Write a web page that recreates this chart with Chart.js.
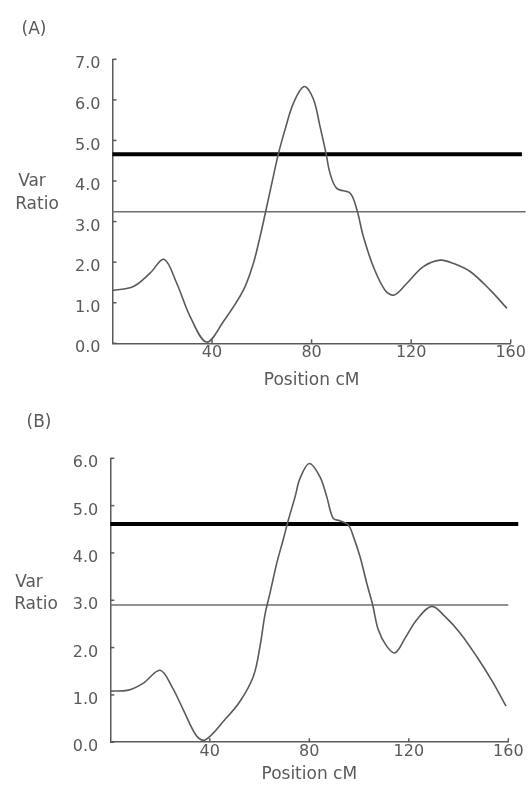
<!DOCTYPE html>
<html>
<head>
<meta charset="utf-8">
<script src="https://cdn.jsdelivr.net/npm/chart.js@4.4.1/dist/chart.umd.min.js"></script>
<style>
  html, body { margin: 0; padding: 0; background: #fff; }
  .panel { position: absolute; left: 0; width: 531px; }
  #panelA { top: 0; height: 393px; }
  #panelB { top: 393px; height: 394px; }
</style>
</head>
<body>
<div class="panel" id="panelA"><canvas id="chartA"></canvas></div>
<div class="panel" id="panelB"><canvas id="chartB"></canvas></div>
<script>
// panel (A)
const posA = [0, 8.4, 15.1, 20.7, 25.8, 31.2, 37.8, 44.5, 52.6, 56.6, 59.3, 61.3, 64, 66.7, 69.3, 72.7, 77, 80.7, 83.4, 85.8, 87.4, 90.1, 95.5, 98.2, 100.8, 104.8, 109.5, 113.2, 118.3, 124.9, 131.7, 137, 143.7, 151.8, 158.5];
const varA = [1.30, 1.40, 1.73, 2.07, 1.48, 0.66, 0.03, 0.53, 1.31, 1.97, 2.63, 3.18, 3.94, 4.68, 5.26, 5.92, 6.33, 6.02, 5.34, 4.68, 4.19, 3.82, 3.70, 3.29, 2.63, 1.89, 1.31, 1.19, 1.48, 1.89, 2.05, 1.97, 1.77, 1.31, 0.86];
const thickA = 4.66, thinA = 3.24;
const thickEndA = 164.5, thinEndA = 166;

// panel (B)
const posB = [0, 7.2, 13.3, 20, 24.7, 29.3, 34.7, 38.2, 46.1, 52.1, 57.5, 60.2, 62.2, 64.2, 66.9, 69.5, 71.6, 74.3, 76.3, 80, 84.3, 87, 89.6, 92.3, 95.7, 97.7, 100.4, 103.1, 105.5, 107.7, 111.1, 114.5, 118.5, 123.2, 129.2, 134.5, 140.6, 147.3, 154, 159.1];
const varB = [1.08, 1.10, 1.25, 1.52, 1.18, 0.69, 0.13, 0.05, 0.48, 0.86, 1.39, 2.03, 2.70, 3.15, 3.78, 4.28, 4.70, 5.19, 5.58, 5.89, 5.61, 5.19, 4.73, 4.68, 4.59, 4.35, 3.92, 3.36, 2.90, 2.38, 2.03, 1.89, 2.20, 2.59, 2.87, 2.66, 2.31, 1.81, 1.25, 0.76];
const thickB = 4.61, thinB = 2.90;
const thickEndB = 164, thinEndB = 160;

const xTicks = [40, 80, 120, 160];
const FONT = "'DejaVu Sans', Verdana, sans-serif";
const GREY = "#5a5a5a";

function toPoints(xs, ys) {
    return xs.map((x, i) => ({ x: x, y: ys[i] }));
}

// little tick marks pointing into the plot, like the original
const innerTicks = {
    id: "innerTicks",
    afterDraw(chart) {
        const { ctx, chartArea, scales } = chart;
        ctx.save();
        ctx.strokeStyle = GREY;
        ctx.lineWidth = 1.5;
        scales.x.ticks.forEach((t) => {
            const px = scales.x.getPixelForValue(t.value);
            ctx.beginPath();
            ctx.moveTo(px, chartArea.bottom);
            ctx.lineTo(px, chartArea.bottom - 4);
            ctx.stroke();
        });
        scales.y.ticks.forEach((t) => {
            const py = scales.y.getPixelForValue(t.value);
            ctx.beginPath();
            ctx.moveTo(chartArea.left, py);
            ctx.lineTo(chartArea.left + 4, py);
            ctx.stroke();
        });
        ctx.restore();
    },
};

// panel letter and the "Var Ratio" label
const sideText = {
    id: "sideText",
    afterDraw(chart, args, opts) {
        const ctx = chart.ctx;
        ctx.save();
        ctx.fillStyle = GREY;
        ctx.textAlign = "center";
        ctx.textBaseline = "middle";
        ctx.font = "17px " + FONT;
        opts.items.forEach((it) => ctx.fillText(it.text, it.x, it.y));
        ctx.restore();
    },
};

function makeChart(id, cfg) {
    return new Chart(document.getElementById(id), {
        type: "line",
        data: {
            datasets: [
                {
                    data: toPoints(cfg.pos, cfg.vals),
                    borderColor: GREY,
                    borderWidth: 1.6,
                    pointRadius: 0,
                    tension: 0.35,
                },
                {
                    data: toPoints([0, cfg.thickEnd], [cfg.thick, cfg.thick]),
                    borderColor: "#000",
                    borderWidth: 4,
                    pointRadius: 0,
                    clip: false,
                },
                {
                    data: toPoints([0, cfg.thinEnd], [cfg.thin, cfg.thin]),
                    borderColor: "#6e6e6e",
                    borderWidth: 1.5,
                    pointRadius: 0,
                    clip: false,
                },
            ],
        },
        options: {
            responsive: true,
            maintainAspectRatio: false,
            animation: false,
            layout: {
                padding: { top: cfg.top, right: cfg.right, left: 0, bottom: 0 },
            },
            scales: {
                x: {
                    type: "linear",
                    min: 0,
                    max: 160,
                    afterBuildTicks: (scale) => {
                        scale.ticks = xTicks.map((v) => ({ value: v }));
                    },
                    afterFit: (scale) => {
                        scale.height = cfg.xHeight;
                    },
                    grid: { drawOnChartArea: false, drawTicks: false },
                    border: { color: GREY, width: 1.5 },
                    ticks: {
                        color: GREY,
                        padding: 0,
                        maxRotation: 0,
                        font: { family: FONT, size: 16 },
                    },
                    title: {
                        display: true,
                        text: "Position cM",
                        color: GREY,
                        padding: { top: 0, bottom: 2 },
                        font: { family: FONT, size: 17 },
                    },
                },
                y: {
                    min: 0,
                    max: cfg.yMax,
                    afterFit: (scale) => {
                        scale.width = cfg.left;
                    },
                    grid: { drawOnChartArea: false, drawTicks: false },
                    border: { color: GREY, width: 1.5 },
                    ticks: {
                        stepSize: 1,
                        color: GREY,
                        padding: 12,
                        labelOffset: 5,
                        font: { family: FONT, size: 16 },
                        callback: (v) => v.toFixed(1),
                    },
                },
            },
            plugins: {
                legend: { display: false },
                tooltip: { enabled: false },
                sideText: { items: cfg.labels },
            },
        },
        plugins: [innerTicks, sideText],
    });
}

makeChart("chartA", {
    pos: posA, vals: varA,
    thick: thickA, thickEnd: thickEndA,
    thin: thinA, thinEnd: thinEndA,
    yMax: 7,
    top: 59.3, right: 20.3, left: 112.5, xHeight: 49.7,
    labels: [
        { text: "(A)", x: 34, y: 30 },
        { text: "Var", x: 32, y: 182 },
        { text: "Ratio", x: 37, y: 205 },
    ],
});

makeChart("chartB", {
    pos: posB, vals: varB,
    thick: thickB, thickEnd: thickEndB,
    thin: thinB, thinEnd: thinEndB,
    yMax: 6,
    top: 65.3, right: 22.7, left: 110.3, xHeight: 44.8,
    labels: [
        { text: "(B)", x: 39, y: 29.5 },
        { text: "Var", x: 29, y: 189.5 },
        { text: "Ratio", x: 36, y: 211.5 },
    ],
});
</script>
</body>
</html>
